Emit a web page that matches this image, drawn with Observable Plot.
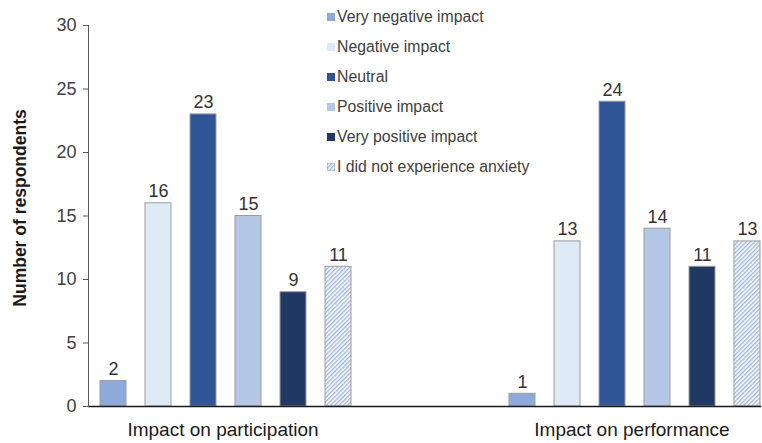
<!DOCTYPE html>
<html>
<head>
<meta charset="utf-8">
<script src="https://cdn.jsdelivr.net/npm/d3@7"></script>
<script src="https://cdn.jsdelivr.net/npm/@observablehq/plot@0.6"></script>
<style>
  html, body { margin: 0; padding: 0; background: #fff; }
  #wrap { position: relative; width: 762px; height: 443px; font-family: "Liberation Sans", Arial, sans-serif; }
  #legend { position: absolute; left: 327px; top: 2px; font-size: 15.8px; color: #404040; }
  #legend .row { height: 30px; display: flex; align-items: center; }
  #legend .sw { width: 8px; height: 8px; margin-right: 2px; }
</style>
</head>
<body>
<svg width="0" height="0" style="position:absolute">
  <defs>
    <pattern id="hatch" patternUnits="userSpaceOnUse" width="3" height="3" patternTransform="rotate(45)">
      <rect width="3" height="3" fill="#ffffff"></rect>
      <line x1="0.7" y1="0" x2="0.7" y2="3" stroke="#9db5df" stroke-width="1.4"></line>
    </pattern>
  </defs>
</svg>
<div id="wrap"><div id="legend"></div></div>
<script>
const groups = ["Impact on participation", "Impact on performance"];
const categories = ["Very negative impact", "Negative impact", "Neutral", "Positive impact", "Very positive impact", "I did not experience anxiety"];
const participation = [2, 16, 23, 15, 9, 11];
const performance = [1, 13, 24, 14, 11, 13];
const colors = ["#8eaadb", "#deebf7", "#2f5597", "#b4c7e7", "#1f3864", "url(#hatch)"];
const yTicks = [0, 5, 10, 15, 20, 25, 30];

const rows = [];
categories.forEach((c, i) => {
  rows.push({group: groups[0], cat: c, value: participation[i]});
  rows.push({group: groups[1], cat: c, value: performance[i]});
});

const font = "Liberation Sans, Arial, sans-serif";

const chart = Plot.plot({
  width: 762,
  height: 443,
  marginLeft: 87,
  marginRight: 1,
  marginTop: 25,
  marginBottom: 37,
  style: {fontFamily: font, color: "#404040", background: "transparent", overflow: "visible"},
  fx: {domain: groups, paddingInner: 0.356, paddingOuter: 0},
  x: {domain: categories, paddingInner: 0.43, paddingOuter: 0.11, align: 1, axis: null},
  y: {domain: [0, 30]},
  color: {domain: categories, range: colors},
  marks: [
    Plot.barY(rows, {fx: "group", x: "cat", y: "value", fill: "cat", stroke: "#9c9c9c", strokeWidth: 1}),
    Plot.text(rows, {fx: "group", x: "cat", y: "value", text: d => String(d.value), lineAnchor: "bottom", dy: -6, fontSize: 18, fill: "#333333"}),
    Plot.frame({anchor: "bottom", facet: "super", stroke: "#1a1a1a", strokeWidth: 1.5}),
    Plot.frame({anchor: "left", facet: "super", stroke: "#595959", strokeWidth: 1}),
    Plot.axisY({ticks: yTicks, tickSize: 5, tickPadding: 7, fontSize: 18, label: null, stroke: "#595959", fill: "#404040"}),
    Plot.axisFx({anchor: "bottom", tickSize: 0, tickPadding: 16, fontSize: 19, label: null, fill: "#1a1a1a", dx: 3}),
    Plot.text(["Number of respondents"], {frameAnchor: "left", textAnchor: "middle", dx: -68, dy: -8, rotate: -90, fontWeight: "bold", fontSize: 17.5, fill: "#1a1a1a", facet: "super"})
  ]
});

document.getElementById("wrap").prepend(chart);

const legend = document.getElementById("legend");
categories.forEach((c, i) => {
  const row = document.createElement("div");
  row.className = "row";
  const sw = document.createElementNS("http://www.w3.org/2000/svg", "svg");
  sw.setAttribute("class", "sw");
  sw.setAttribute("width", "8");
  sw.setAttribute("height", "8");
  const r = document.createElementNS("http://www.w3.org/2000/svg", "rect");
  r.setAttribute("width", "8");
  r.setAttribute("height", "8");
  r.setAttribute("fill", colors[i]);
  if (i === 5) { r.setAttribute("stroke", "#8eaadb"); r.setAttribute("stroke-width", "1"); }
  sw.appendChild(r);
  const t = document.createElement("span");
  t.textContent = c;
  row.appendChild(sw);
  row.appendChild(t);
  legend.appendChild(row);
});
</script>
</body>
</html>
